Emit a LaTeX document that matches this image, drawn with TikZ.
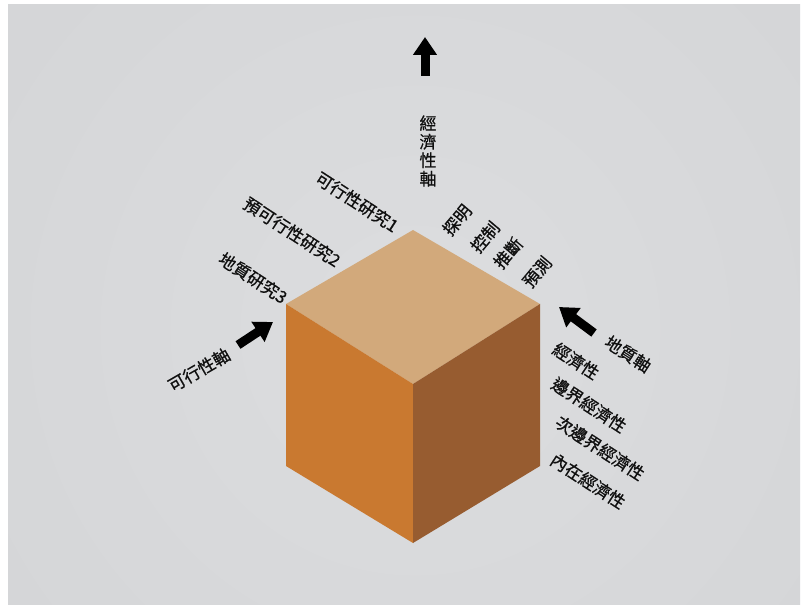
\documentclass[tikz,border=0pt]{standalone}
\usepackage{fontspec}
\setmainfont{Noto Sans CJK TC}[FakeBold=0.7]
\usetikzlibrary{arrows.meta}
\definecolor{bg}{RGB}{212,213,215}
\definecolor{halo}{RGB}{220,221,223}
\definecolor{topf}{RGB}{210,169,123}
\definecolor{leftf}{RGB}{201,121,48}
\definecolor{rightf}{RGB}{151,92,48}
\definecolor{ink}{RGB}{15,15,15}
\begin{document}
\begin{tikzpicture}[x=1pt,y=-1pt,
  lab/.style={text=ink, font=\fontsize{17}{18.5}\selectfont, inner sep=0pt},
  fatarrow/.style={line width=9pt, draw=black, -{Triangle[width=23pt,length=18pt]}}]
\useasboundingbox (0,0) rectangle (808,609);
\fill[white] (0,0) rectangle (808,609);
\fill[bg] (8,5) rectangle (800,604);
\begin{scope}
\clip (8,5) rectangle (800,604);
\shade[inner color=halo, outer color=bg] (415,330) circle (560);
\end{scope}
% cube
\coordinate (T) at (413,230);
\coordinate (L) at (286,304);
\coordinate (R) at (540,304);
\coordinate (F) at (413,384);
\coordinate (BL) at (286,466);
\coordinate (BR) at (540,466);
\coordinate (BF) at (413,543);
\fill[topf] (T) -- (R) -- (F) -- (L) -- cycle;
\fill[leftf] (L) -- (F) -- (BF) -- (BL) -- cycle;
\fill[rightf] (F) -- (R) -- (BR) -- (BF) -- cycle;
% arrows
\coordinate (ua1) at (425,76);
\coordinate (ua2) at (425,37);
\draw[fatarrow] (ua1) -- (ua2);
\coordinate (ra1) at (594,333);
\coordinate (ra2) at (559,307);
\draw[fatarrow] (ra1) -- (ra2);
\coordinate (la1) at (238,345);
\coordinate (la2) at (273,322);
\draw[fatarrow] (la1) -- (la2);
% labels
\node[lab, align=center] (econaxis) at (428,151) {經\\濟\\性\\軸};
\node[lab, rotate=-33] (fs1) at (357,202) {可行性研究1};
\node[lab, rotate=-33] (fs2) at (292,232) {預可行性研究2};
\node[lab, rotate=-33] (fs3) at (253,278) {地質研究3};
\node[lab, rotate=50] (g1) at (457,220) {探明};
\node[lab, rotate=50] (g2) at (485,237) {控制};
\node[lab, rotate=50] (g3) at (508,253) {推斷};
\node[lab, rotate=50] (g4) at (537,272) {預測};
\node[lab, rotate=-33] (geoaxis) at (628,354) {地質軸};
\node[lab, rotate=-33] (e1) at (576,361) {經濟性};
\node[lab, rotate=-33] (e2) at (589,405) {邊界經濟性};
\node[lab, rotate=-33] (e3) at (600,448) {次邊界經濟性};
\node[lab, rotate=-33] (e4) at (588,481) {內在經濟性};
\node[lab, rotate=30] (feasaxis) at (199,370) {可行性軸};
\end{tikzpicture}
\end{document}
